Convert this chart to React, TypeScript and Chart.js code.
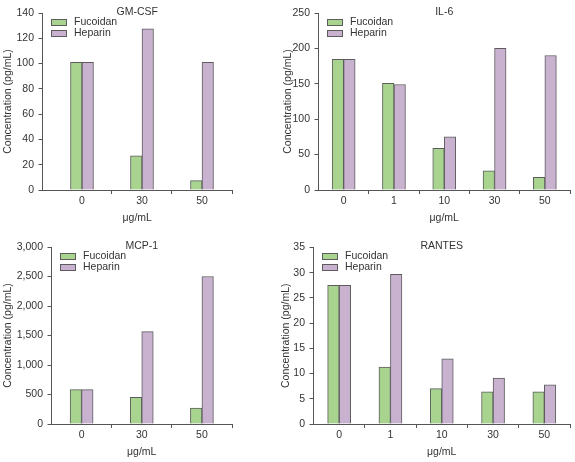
import React, { useEffect, useRef } from 'react';
import { Chart, registerables } from 'chart.js';

Chart.register(...registerables);

// ---------- data ----------
const seriesNames = ['Fucoidan', 'Heparin'];
const xAxisTitle = 'μg/mL';
const yAxisTitle = 'Concentration (pg/mL)';

const gmcsfDoses = ['0', '30', '50'];
const gmcsfFucoidan = [101, 27, 7.4];
const gmcsfHeparin = [101, 127.5, 101];

const il6Doses = ['0', '1', '10', '30', '50'];
const il6Fucoidan = [184.5, 150.5, 59, 27, 18];
const il6Heparin = [184.5, 149, 75, 200, 190];

const mcp1Doses = ['0', '30', '50'];
const mcp1Fucoidan = [583, 450, 270];
const mcp1Heparin = [583, 1565, 2500];

const rantesDoses = ['0', '1', '10', '30', '50'];
const rantesFucoidan = [27.5, 11.3, 7.0, 6.4, 6.4];
const rantesHeparin = [27.5, 29.7, 12.9, 9.1, 7.75];

// ---------- style ----------
const FONT = '"Liberation Sans", Arial, Helvetica, sans-serif';
const FS = 10.5;
const TEXT = '#333333';
const AXIS = '#555555';
const EDGE = '#5c5c5c';
const GREEN = '#a8d48f';
const PURPLE = '#c8b2d0';
const W = 575;
const H = 462;
const X_SCALE_H = 34.3;

type Panel = {
  title: string;
  doses: string[];
  fucoidan: number[];
  heparin: number[];
  yMax: number;
  yStep: number;
  left: number;
  right: number;
  top: number;
  bottom: number;
  yTitleX: number;
  xMin: number;
};

const panels: Panel[] = [
  { title: 'GM-CSF', doses: gmcsfDoses, fucoidan: gmcsfFucoidan, heparin: gmcsfHeparin, yMax: 140, yStep: 20,
    left: 42.5, right: 232, top: 13, bottom: 190, yTitleX: 8, xMin: -0.658 },
  { title: 'IL-6', doses: il6Doses, fucoidan: il6Fucoidan, heparin: il6Heparin, yMax: 250, yStep: 50,
    left: 318.5, right: 570, top: 13, bottom: 190, yTitleX: 288, xMin: -0.5 },
  { title: 'MCP-1', doses: mcp1Doses, fucoidan: mcp1Fucoidan, heparin: mcp1Heparin, yMax: 3000, yStep: 500,
    left: 51.5, right: 232, top: 247, bottom: 424, yTitleX: 8, xMin: -0.5 },
  { title: 'RANTES', doses: rantesDoses, fucoidan: rantesFucoidan, heparin: rantesHeparin, yMax: 35, yStep: 5,
    left: 313.5, right: 570, top: 247.5, bottom: 424, yTitleX: 286.5, xMin: -0.5 },
];

const decorPlugin = {
  id: 'decor',
  afterDraw(chart: any, _args: any, opts: any) {
    const { ctx, chartArea } = chart;
    ctx.save();
    ctx.font = `${FS}px ${FONT}`;
    ctx.textBaseline = 'middle';
    ctx.textAlign = 'center';
    ctx.fillStyle = TEXT;
    ctx.fillText(opts.title, (chartArea.left + chartArea.right) / 2, chartArea.top - 1);
    chart.data.datasets.forEach((ds: any, i: number) => {
      const bx = Math.round(chartArea.left + 8.5);
      const by = Math.round(chartArea.top + 5.5 + i * 11);
      ctx.fillStyle = ds.backgroundColor;
      ctx.fillRect(bx, by, 16, 7);
      ctx.strokeStyle = EDGE;
      ctx.lineWidth = 1;
      ctx.strokeRect(bx + 0.5, by + 0.5, 15, 6);
      ctx.fillStyle = TEXT;
      ctx.textAlign = 'left';
      ctx.fillText(ds.label, bx + 23, by + 3.5);
    });
    ctx.restore();
  },
};

function PanelChart({ p }: { p: Panel }) {
  const ref = useRef<HTMLCanvasElement>(null);
  useEffect(() => {
    if (!ref.current) return;
    const n = p.doses.length;
    const lineH = FS * 1.2;
    const padLeft = p.yTitleX - lineH / 2;
    const tickList: { value: number }[] = [];
    for (let i = 0; i < n; i++) {
      tickList.push({ value: i });
      tickList.push({ value: i + 0.5 });
    }
    const font = { family: FONT, size: FS };
    const chart = new Chart(ref.current, {
      type: 'bar',
      data: {
        datasets: [
          {
            label: seriesNames[0],
            data: p.fucoidan.map((v, i) => ({ x: i, y: v })),
            backgroundColor: GREEN,
            borderColor: EDGE,
            borderWidth: 1,
            barThickness: 11.5,
          },
          {
            label: seriesNames[1],
            data: p.heparin.map((v, i) => ({ x: i, y: v })),
            backgroundColor: PURPLE,
            borderColor: EDGE,
            borderWidth: 1,
            barThickness: 11.5,
          },
        ],
      },
      options: {
        responsive: false,
        animation: false,
        events: [],
        layout: {
          padding: {
            left: padLeft,
            top: p.top,
            right: W - p.right,
            bottom: H - p.bottom - X_SCALE_H,
          },
        },
        plugins: {
          legend: { display: false },
          tooltip: { enabled: false },
          title: { display: false },
          decor: { title: p.title },
        } as any,
        scales: {
          x: {
            type: 'linear',
            min: p.xMin,
            max: n - 0.5,
            offset: false,
            afterBuildTicks: (s: any) => {
              s.ticks = tickList.map((t) => ({ ...t }));
            },
            afterFit: (s: any) => {
              s.height = X_SCALE_H;
            },
            ticks: {
              autoSkip: false,
              maxRotation: 0,
              minRotation: 0,
              padding: 1,
              color: TEXT,
              font,
              callback: (v: any) => (Number.isInteger(v) ? p.doses[v] : ''),
            },
            grid: {
              offset: false,
              drawOnChartArea: false,
              drawTicks: true,
              tickLength: 4,
              tickWidth: 1,
              tickColor: (c: any) => (c.tick && Number.isInteger(c.tick.value) ? 'rgba(0,0,0,0)' : AXIS),
            },
            border: { display: true, color: AXIS, width: 1 },
            title: { display: true, text: xAxisTitle, color: TEXT, font, padding: 0 },
          },
          y: {
            min: 0,
            max: p.yMax,
            afterFit: (s: any) => {
              s.width = p.left - padLeft;
            },
            ticks: { stepSize: p.yStep, padding: 4.5, color: TEXT, font },
            grid: {
              drawOnChartArea: false,
              drawTicks: true,
              tickLength: 4,
              tickWidth: 1,
              tickColor: AXIS,
            },
            border: { display: true, color: AXIS, width: 1 },
            title: { display: true, text: yAxisTitle, color: TEXT, font, padding: 0 },
          },
        },
      } as any,
      plugins: [decorPlugin],
    });
    return () => chart.destroy();
  }, [p]);
  return (
    <canvas
      ref={ref}
      width={W}
      height={H}
      style={{ position: 'absolute', left: 0, top: 0, width: W, height: H }}
    />
  );
}

export default function App() {
  return (
    <div style={{ position: 'absolute', left: 0, top: 0, width: W, height: H, background: '#ffffff' }}>
      {panels.map((p) => (
        <PanelChart key={p.title} p={p} />
      ))}
    </div>
  );
}
